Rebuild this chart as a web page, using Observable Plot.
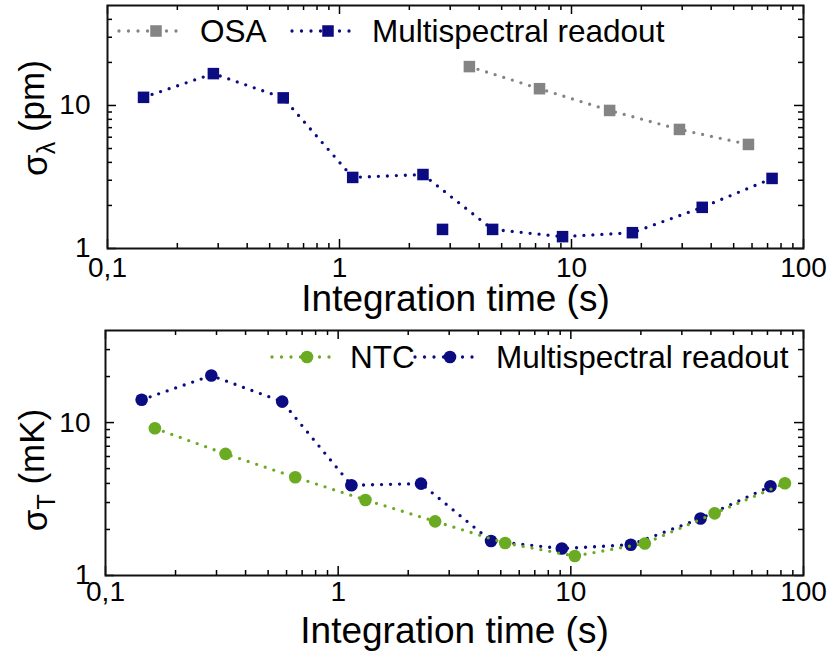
<!DOCTYPE html>
<html>
<head>
<meta charset="utf-8">
<script src="https://cdn.jsdelivr.net/npm/d3@7"></script>
<script src="https://cdn.jsdelivr.net/npm/@observablehq/plot@0.6"></script>
<style>
  html, body { margin: 0; padding: 0; background: #fff; }
  #chart { width: 832px; }
  svg { display: block; }
</style>
</head>
<body>
<div id="chart"></div>
<script>
// ---------- data ----------
// top panel: wavelength uncertainty (pm) vs integration time (s)
const osaTime = [3.63, 7.28, 14.6, 29.2, 57.9];
const osaSigma = [18.7, 13.1, 9.23, 6.8, 5.34];
const msTimeTop = [0.143, 0.286, 0.572, 1.14, 2.29, 4.57, 9.15, 18.3, 36.6, 73.2];
const msSigmaTop = [11.4, 16.7, 11.3, 3.14, 3.29, 1.36, 1.21, 1.29, 1.94, 3.09];
const msExtraTime = [2.78];
const msExtraSigma = [1.36];

// bottom panel: temperature uncertainty (mK) vs integration time (s)
const ntcTime = [0.163, 0.328, 0.654, 1.31, 2.61, 5.22, 10.4, 20.8, 41.5, 83.2];
const ntcSigma = [9.18, 6.24, 4.39, 3.12, 2.26, 1.63, 1.34, 1.62, 2.55, 4.01];
const msTimeBot = [0.143, 0.285, 0.575, 1.14, 2.27, 4.54, 9.15, 18.1, 36.1, 72.1];
const msSigmaBot = [14.1, 20.3, 13.7, 3.89, 3.99, 1.68, 1.50, 1.59, 2.36, 3.83];

// ticks
const xMajor = [0.1, 1, 10, 100];
const xMajorLabels = ["0,1", "1", "10", "100"];
const xMinor = [0.2,0.3,0.4,0.5,0.6,0.7,0.8,0.9, 2,3,4,5,6,7,8,9, 20,30,40,50,60,70,80,90];
const yMajor = [1, 10];
const yMajorLabels = ["1", "10"];
const yMinorTop = [2,3,4,5,6,7,8,9,20,30,40];
const yMinorBot = [2,3,4,5,6,7,8,9,20,30];

const xLabel = "Integration time (s)";

// ---------- style ----------
const NAVY = "#0b0b82";
const GRAY = "#848484";
const GREEN = "#6aab22";
const FONT = "'Liberation Sans', Arial, Helvetica, sans-serif";

const zip = (a, b) => a.map((t, i) => ({t, s: b[i]}));

function tickMarks(innerW, innerH, yMinor) {
  const c = {stroke: "#000", strokeWidth: 1.5};
  const M = 9, m = 5;
  return [
    Plot.tickX(xMajor, {x: d => d, insetTop: innerH - M, ...c}),
    Plot.tickX(xMajor, {x: d => d, insetBottom: innerH - M, ...c}),
    Plot.tickX(xMinor, {x: d => d, insetTop: innerH - m, ...c}),
    Plot.tickX(xMinor, {x: d => d, insetBottom: innerH - m, ...c}),
    Plot.tickY(yMajor, {y: d => d, insetRight: innerW - M, ...c}),
    Plot.tickY(yMajor, {y: d => d, insetLeft: innerW - M, ...c}),
    Plot.tickY(yMinor, {y: d => d, insetRight: innerW - m, ...c}),
    Plot.tickY(yMinor, {y: d => d, insetLeft: innerW - m, ...c})
  ];
}

function series(data, color, symbol, r, withLine = true) {
  const out = [];
  if (withLine) out.push(Plot.line(data, {x: "t", y: "s", stroke: color, strokeWidth: 3.3, strokeDasharray: "0,9", strokeLinecap: "round"}));
  out.push(Plot.dot(data, {x: "t", y: "s", symbol, r, fill: color, stroke: "none"}));
  return out;
}

function makePanel({height, mt, mb, ml, mr, yDomain, yMinor, xPad, yPad, labelDy, marks}) {
  const innerW = 832 - ml - mr, innerH = height - mt - mb;
  return Plot.plot({
    width: 832, height,
    marginTop: mt, marginBottom: mb, marginLeft: ml, marginRight: mr,
    x: {type: "log", domain: [0.1, 100]},
    y: {type: "log", domain: yDomain},
    style: {fontFamily: FONT, fontSize: "28px", color: "#000", background: "#fff", overflow: "visible"},
    marks: [
      ...marks,
      ...tickMarks(innerW, innerH, yMinor),
      Plot.frame({stroke: "#111", strokeWidth: 2}),
      Plot.axisX(xMajor, {tickSize: 0, tickPadding: xPad, fontSize: 28, label: null,
        tickFormat: d => xMajorLabels[xMajor.indexOf(d)]}),
      Plot.axisY(yMajor, {tickSize: 0, tickPadding: yPad, fontSize: 28, label: null,
        tickFormat: d => yMajorLabels[yMajor.indexOf(d)]}),
      Plot.text([xLabel], {frameAnchor: "bottom", dy: labelDy, text: d => d, fontSize: 37, lineAnchor: "middle", fill: "#000"})
    ]
  });
}

function yTitle(svg, cx, cy, main, sub, unit) {
  const t = d3.select(svg).append("text")
    .attr("transform", `translate(${cx},${cy}) rotate(-90)`)
    .attr("text-anchor", "middle")
    .attr("dy", "0.35em")
    .attr("font-family", FONT)
    .attr("font-size", 35)
    .attr("fill", "#000");
  t.append("tspan").text(main);
  t.append("tspan").text(sub).attr("font-size", 25).attr("dy", "0.3em");
  t.append("tspan").text("\u00a0" + unit).attr("dy", "-0.3em");
}

function legendItem(svg, x1, x2, xm, y, color, symbol, r, label, xText) {
  const g = d3.select(svg).append("g");
  g.append("line").attr("x1", x1).attr("x2", x2).attr("y1", y).attr("y2", y)
    .attr("stroke", color).attr("stroke-width", 3.3).attr("stroke-dasharray", "0,9.5").attr("stroke-linecap", "round");
  g.append("path").attr("d", d3.symbol(symbol === "square" ? d3.symbolSquare : d3.symbolCircle, Math.PI * r * r)())
    .attr("transform", `translate(${xm},${y})`).attr("fill", color);
  g.append("text").attr("x", xText).attr("y", y).attr("dy", "0.36em")
    .attr("text-anchor", "start")
    .attr("font-family", FONT).attr("font-size", 31.5).attr("fill", "#000").text(label);
}

// ---------- top panel ----------
const topPanel = makePanel({
  height: 320, mt: 5, mb: 72, ml: 107, mr: 29,
  yDomain: [1, 50], yMinor: yMinorTop, xPad: 9, yPad: 17, labelDy: 51,
  marks: [
    ...series(zip(osaTime, osaSigma), GRAY, "square", 6.5),
    ...series(zip(msTimeTop, msSigmaTop), NAVY, "square", 6.5),
    ...series(zip(msExtraTime, msExtraSigma), NAVY, "square", 6.5, false)
  ]
});
yTitle(topPanel, 35, 118, "σ", "λ", "(pm)");
legendItem(topPanel, 119, 184, 156, 31, GRAY, "square", 6.5, "OSA", 200);
legendItem(topPanel, 292, 357, 328, 31, NAVY, "square", 6.5, "Multispectral readout", 372);

// ---------- bottom panel ----------
const bottomPanel = makePanel({
  height: 336, mt: 10, mb: 81, ml: 105, mr: 29,
  yDomain: [1, 40], yMinor: yMinorBot, xPad: 6, yPad: 15, labelDy: 56,
  marks: [
    ...series(zip(msTimeBot, msSigmaBot), NAVY, "circle", 6.3),
    ...series(zip(ntcTime, ntcSigma), GREEN, "circle", 6.3)
  ]
});
yTitle(bottomPanel, 35, 150, "σ", "T", "(mK)");
legendItem(bottomPanel, 272, 338, 307, 37, GREEN, "circle", 6.3, "NTC", 350);
legendItem(bottomPanel, 415, 480, 450, 37, NAVY, "circle", 6.3, "Multispectral readout", 496);

document.getElementById("chart").append(topPanel, bottomPanel);
</script>
</body>
</html>
